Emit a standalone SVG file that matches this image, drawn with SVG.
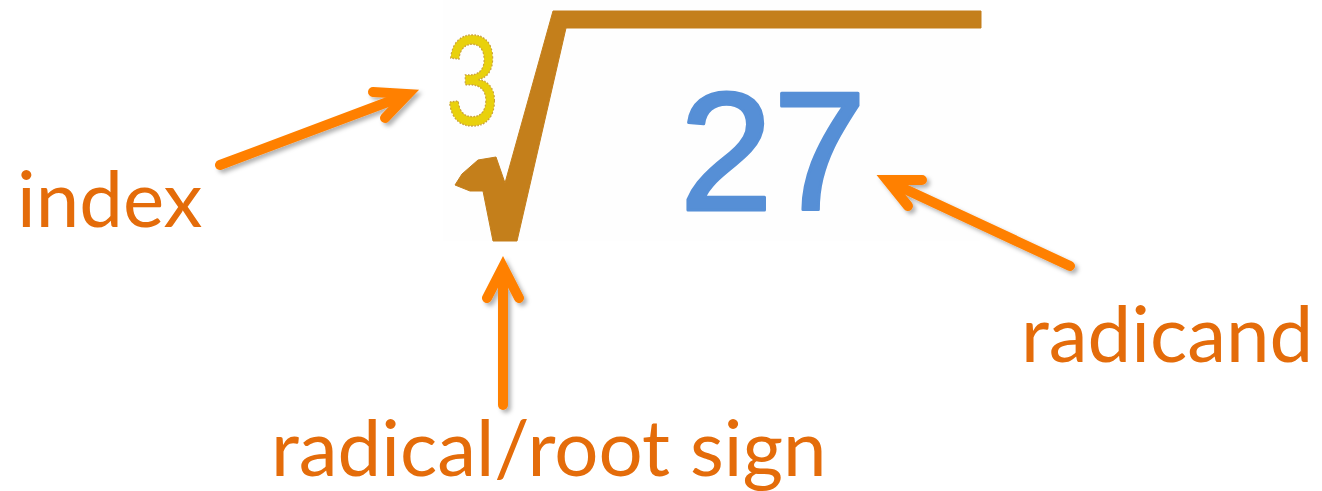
<svg xmlns="http://www.w3.org/2000/svg" width="1322" height="491" viewBox="0 0 1322 491">
  <style>
    .label { font-family: Lato, "Open Sans", "Liberation Sans", sans-serif; font-size: 78px; fill: #e46c0a; }
    .arrow { fill: none; stroke: #ff8000; stroke-width: 10; stroke-linecap: round; }
    .head { stroke-linejoin: miter; stroke-miterlimit: 10; }
  </style>
  <defs>
    <filter id="shadow" x="-20%" y="-20%" width="140%" height="140%">
      <feDropShadow dx="3" dy="3" stdDeviation="2" flood-color="#000" flood-opacity="0.3"/>
    </filter>
  </defs>
  <rect width="1322" height="491" fill="#ffffff"/>

  <g id="radical-expression">
    <rect x="443" y="0" width="537" height="241" fill="#fefefe"/>
    <polygon fill="#c47f1b" stroke="#c47f1b" stroke-width="1" stroke-linejoin="round" points="981,11 981,28 566,28 517,241 493,241 483,191 470,191 455,185 462,174 478,160 496,157 505,183 553,11"/>
    <text x="0" y="0" transform="translate(446,125) scale(0.74,1)" font-family="Liberation Sans, sans-serif" font-size="128" fill="#e9d10c" stroke="#c9a040" stroke-width="1.5" stroke-dasharray="2 2">3</text>
    <text x="773" y="210" text-anchor="middle" font-family="Liberation Sans, sans-serif" font-size="168" fill="#568fd6" stroke="#568fd6" stroke-width="3" stroke-linejoin="round">27</text>
  </g>

  <g id="index-label">
    <text class="label" x="17" y="227">index</text>
  </g>
  <g id="radicand-label">
    <text class="label" x="1021" y="362">radicand</text>
  </g>
  <g id="root-sign-label">
    <text class="label" x="271" y="476">radical/root sign</text>
  </g>

  <g id="connectors" filter="url(#shadow)">
    <g id="arrow-index">
      <line class="arrow" x1="220" y1="165" x2="401" y2="97"/>
      <polyline class="arrow head" points="373,92 408,94 385,118"/>
    </g>
    <g id="arrow-radicand">
      <line class="arrow" x1="1070" y1="266" x2="894" y2="184"/>
      <polyline class="arrow head" points="922,180 887,180 908,206"/>
    </g>
    <g id="arrow-root">
      <line class="arrow" x1="503" y1="405" x2="503" y2="274"/>
      <polyline class="arrow head" points="487,298 503,267 519,298"/>
    </g>
  </g>
</svg>
